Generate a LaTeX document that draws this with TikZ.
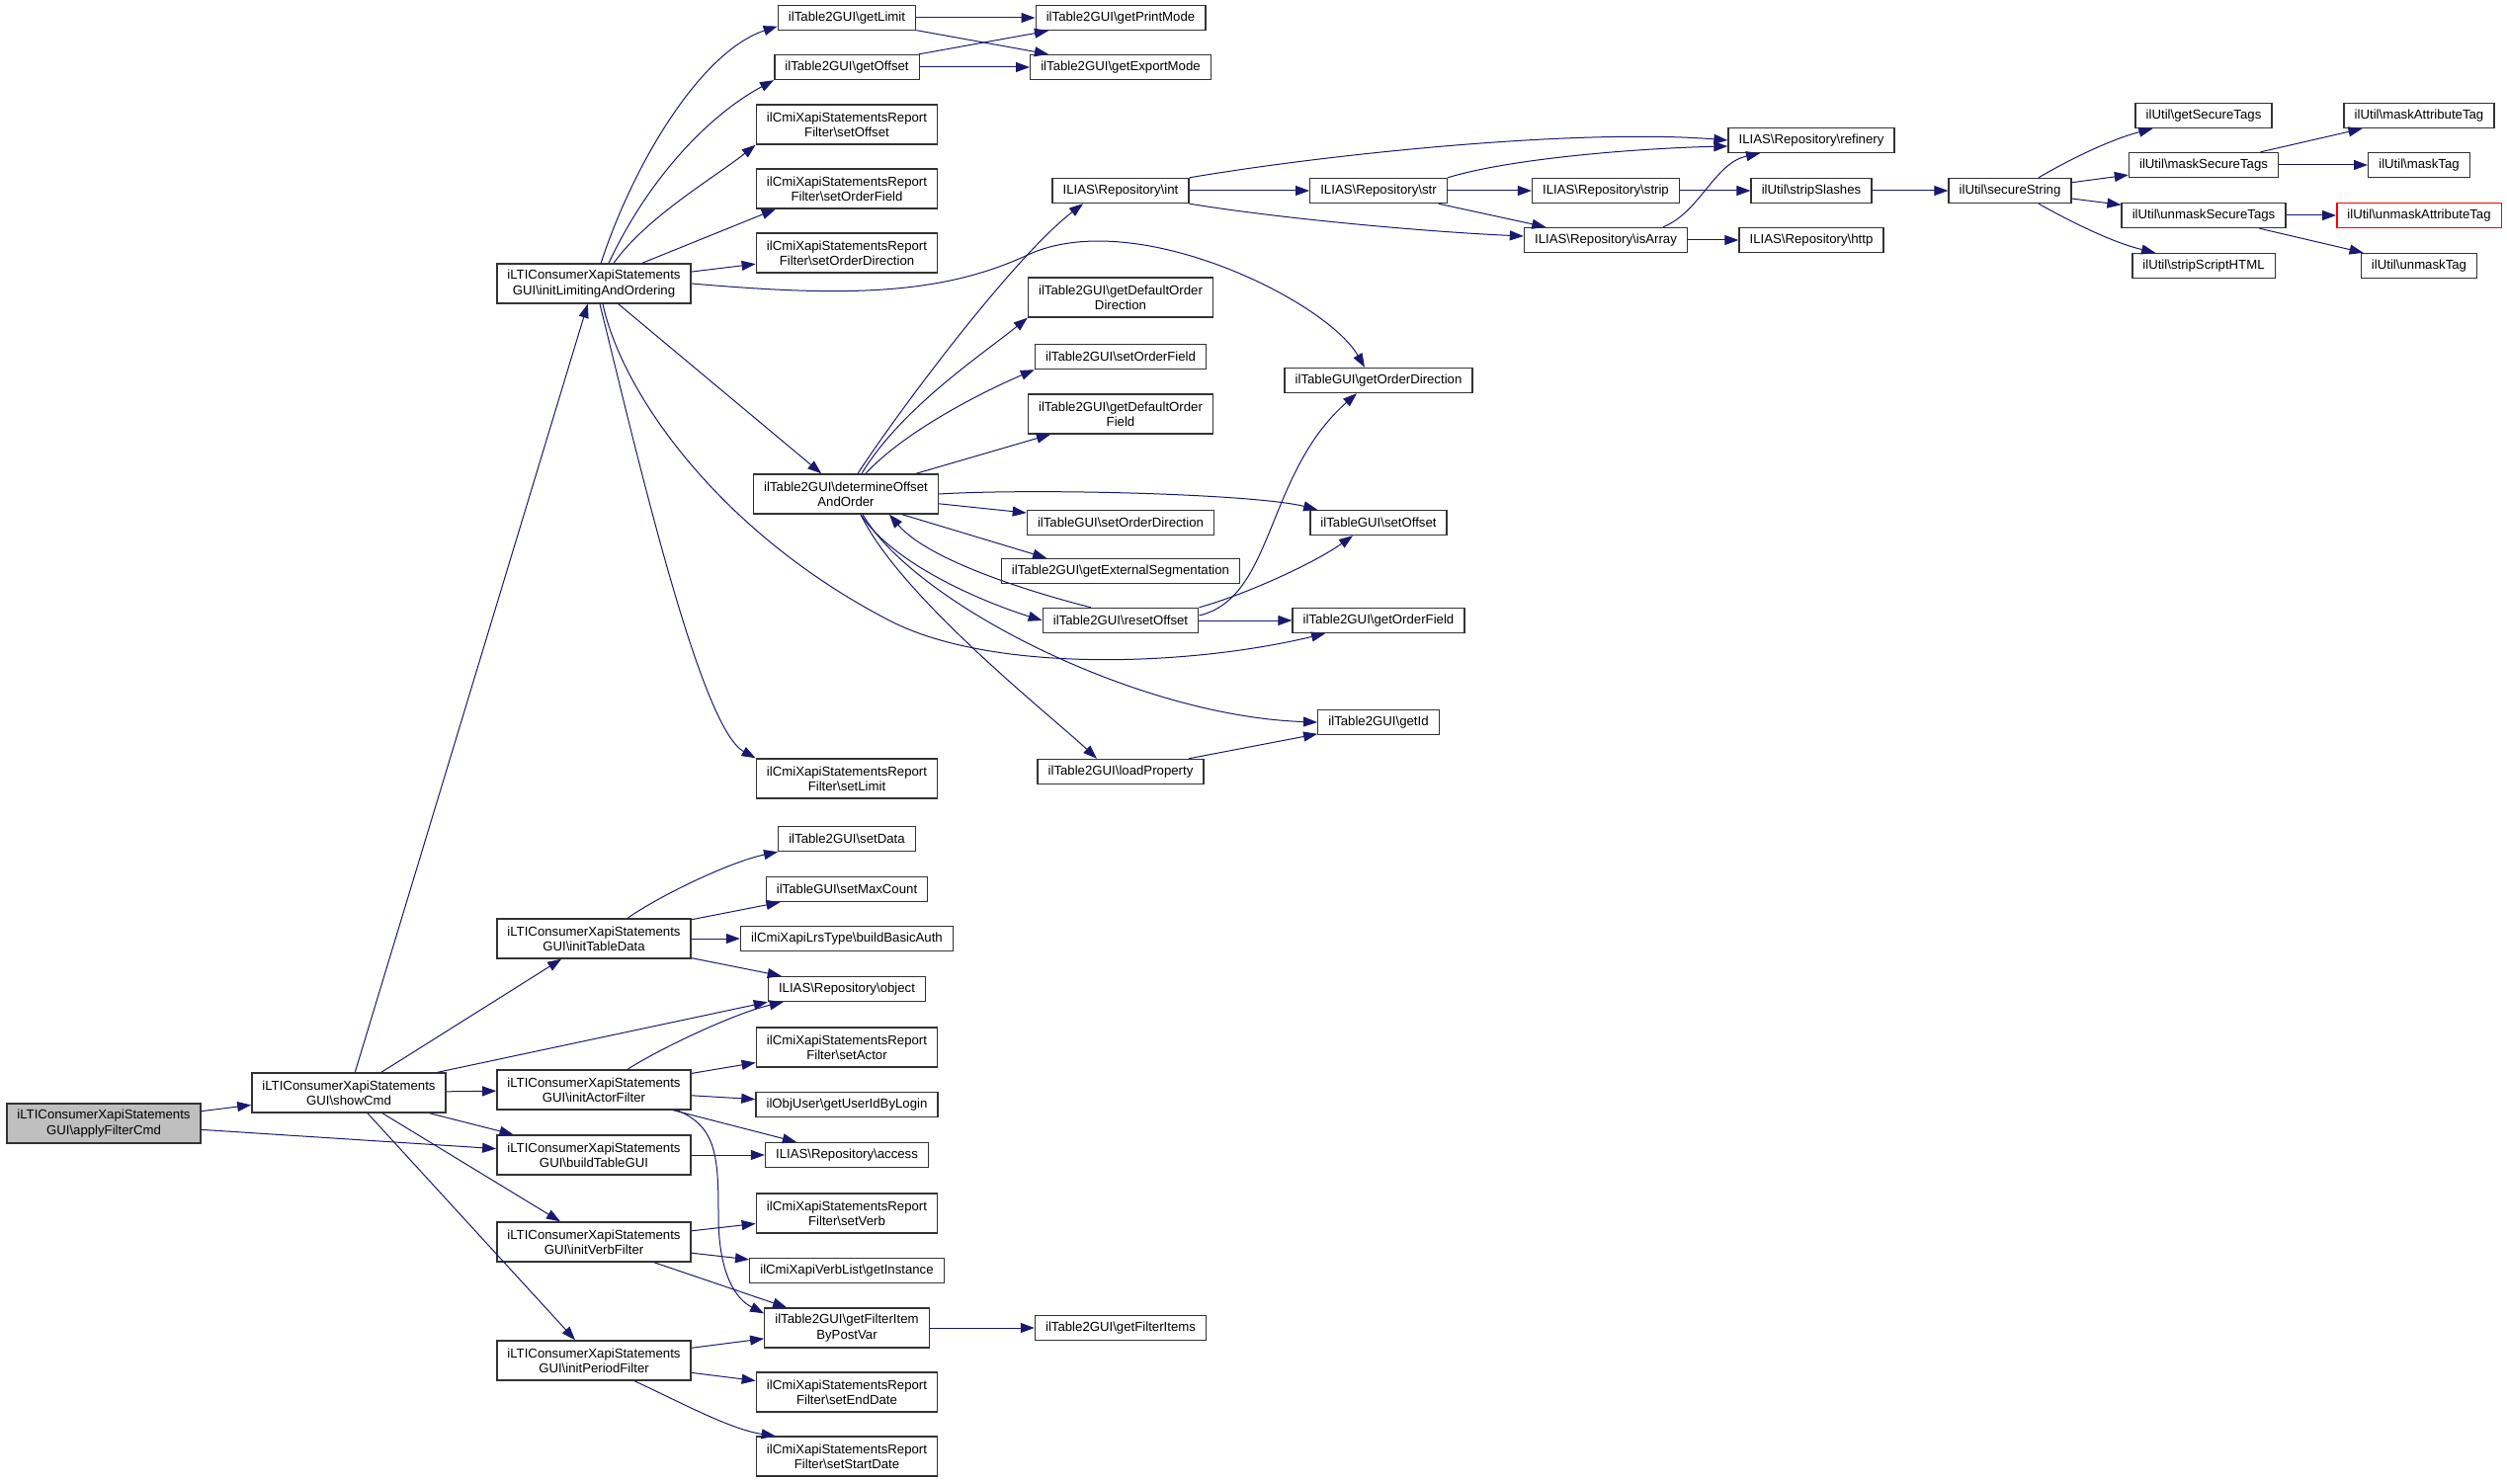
\documentclass[tikz,border=0pt]{standalone}
\usepackage{fontspec}
\setmainfont{Liberation Sans}
\usetikzlibrary{arrows.meta}
\definecolor{edgeblue}{HTML}{191970}
\definecolor{rootgray}{HTML}{BFBFBF}
\newcommand{\bksl}{\textbackslash}

\begin{document}
\begin{tikzpicture}[
        x=0.5pt, y=-0.5pt, % 1 единица = 1 пиксель, ось y вниз
        func/.style = {draw=black!80, line width=0.7pt, fill=white, align=center,
            inner xsep=5.3pt, inner ysep=3pt, minimum height=12.5pt,
            font=\fontsize{6.6}{7.6}\selectfont}, % Стиль узлов
        func2/.style = {func, minimum height=20pt}, % Узел в две строки
        root/.style = {func2, fill=rootgray},
        lost/.style = {func, draw=red},
        call/.style = {draw=edgeblue, line width=0.5pt, -{Triangle[length=7pt, width=5pt]}},
    ]

    \path[use as bounding box, fill=white] (0,0) rectangle (2537,1502);

    % Уровни 0-2
    \node[root] (afc) at (105,1137) {iLTIConsumerXapiStatements\\GUI\bksl applyFilterCmd};
    \node[func2] (scmd) at (353,1106) {iLTIConsumerXapiStatements\\GUI\bksl showCmd};
    \node[func2] (ilao) at (601,287) {iLTIConsumerXapiStatements\\GUI\bksl initLimitingAndOrdering};
    \node[func2] (itd) at (601,950) {iLTIConsumerXapiStatements\\GUI\bksl initTableData};
    \node[func2] (iaf) at (601,1103) {iLTIConsumerXapiStatements\\GUI\bksl initActorFilter};
    \node[func2] (btg) at (601,1169) {iLTIConsumerXapiStatements\\GUI\bksl buildTableGUI};
    \node[func2] (ivf) at (601,1257) {iLTIConsumerXapiStatements\\GUI\bksl initVerbFilter};
    \node[func2] (ipf) at (601,1377) {iLTIConsumerXapiStatements\\GUI\bksl initPeriodFilter};

    % Уровень 3
    \node[func] (glim) at (857,18) {ilTable2GUI\bksl getLimit};
    \node[func] (goff) at (857,68) {ilTable2GUI\bksl getOffset};
    \node[func2] (fsoff) at (857,126) {ilCmiXapiStatementsReport\\Filter\bksl setOffset};
    \node[func2] (fsof) at (857,191) {ilCmiXapiStatementsReport\\Filter\bksl setOrderField};
    \node[func2] (fsod) at (857,256) {ilCmiXapiStatementsReport\\Filter\bksl setOrderDirection};
    \node[func2] (doa) at (856,500) {ilTable2GUI\bksl determineOffset\\AndOrder};
    \node[func2] (fslim) at (857,788) {ilCmiXapiStatementsReport\\Filter\bksl setLimit};
    \node[func] (sdata) at (857,849) {ilTable2GUI\bksl setData};
    \node[func] (smax) at (857,900) {ilTableGUI\bksl setMaxCount};
    \node[func] (bba) at (857,950) {ilCmiXapiLrsType\bksl buildBasicAuth};
    \node[func] (robj) at (857,1001) {ILIAS\bksl Repository\bksl object};
    \node[func2] (fsact) at (857,1060) {ilCmiXapiStatementsReport\\Filter\bksl setActor};
    \node[func] (guid) at (857,1118) {ilObjUser\bksl getUserIdByLogin};
    \node[func] (racc) at (857,1169) {ILIAS\bksl Repository\bksl access};
    \node[func2] (fsverb) at (857,1228) {ilCmiXapiStatementsReport\\Filter\bksl setVerb};
    \node[func] (vinst) at (857,1286) {ilCmiXapiVerbList\bksl getInstance};
    \node[func2] (gfi) at (857,1344) {ilTable2GUI\bksl getFilterItem\\ByPostVar};
    \node[func2] (fsend) at (857,1409) {ilCmiXapiStatementsReport\\Filter\bksl setEndDate};
    \node[func2] (fsstart) at (857,1474) {ilCmiXapiStatementsReport\\Filter\bksl setStartDate};

    % Уровень 4
    \node[func] (gpm) at (1134,18) {ilTable2GUI\bksl getPrintMode};
    \node[func] (gem) at (1134,68) {ilTable2GUI\bksl getExportMode};
    \node[func] (rint) at (1134,193) {ILIAS\bksl Repository\bksl int};
    \node[func2] (gdod) at (1134,301) {ilTable2GUI\bksl getDefaultOrder\\Direction};
    \node[func] (sof) at (1134,361) {ilTable2GUI\bksl setOrderField};
    \node[func2] (gdof) at (1134,419) {ilTable2GUI\bksl getDefaultOrder\\Field};
    \node[func] (tsod) at (1134,529) {ilTableGUI\bksl setOrderDirection};
    \node[func] (ges) at (1134,578) {ilTable2GUI\bksl getExternalSegmentation};
    \node[func] (roff) at (1134,628) {ilTable2GUI\bksl resetOffset};
    \node[func] (lprop) at (1134,781) {ilTable2GUI\bksl loadProperty};
    \node[func] (gfis) at (1134,1344) {ilTable2GUI\bksl getFilterItems};

    % Уровень 5
    \node[func] (rstr) at (1395,193) {ILIAS\bksl Repository\bksl str};
    \node[func] (god) at (1395,385) {ilTableGUI\bksl getOrderDirection};
    \node[func] (tsoff) at (1395,529) {ilTableGUI\bksl setOffset};
    \node[func] (gof) at (1395,628) {ilTable2GUI\bksl getOrderField};
    \node[func] (gid) at (1395,731) {ilTable2GUI\bksl getId};

    % Уровни 6-10
    \node[func] (rstrip) at (1625,193) {ILIAS\bksl Repository\bksl strip};
    \node[func] (risarr) at (1625,243) {ILIAS\bksl Repository\bksl isArray};
    \node[func] (rref) at (1833,142) {ILIAS\bksl Repository\bksl refinery};
    \node[func] (sslash) at (1833,193) {ilUtil\bksl stripSlashes};
    \node[func] (rhttp) at (1833,243) {ILIAS\bksl Repository\bksl http};
    \node[func] (ssec) at (2034,193) {ilUtil\bksl secureString};
    \node[func] (gst) at (2230,117) {ilUtil\bksl getSecureTags};
    \node[func] (mst) at (2230,167) {ilUtil\bksl maskSecureTags};
    \node[func] (ust) at (2230,218) {ilUtil\bksl unmaskSecureTags};
    \node[func] (ssh) at (2230,269) {ilUtil\bksl stripScriptHTML};
    \node[func] (mat) at (2448,117) {ilUtil\bksl maskAttributeTag};
    \node[func] (mtag) at (2448,167) {ilUtil\bksl maskTag};
    \node[lost] (uat) at (2448,218) {ilUtil\bksl unmaskAttributeTag};
    \node[func] (utag) at (2448,269) {ilUtil\bksl unmaskTag};

    % applyFilterCmd, showCmd
    \draw[call] (afc) -- (scmd);
    \draw[call] (afc) -- (btg);
    \draw[call] (scmd) -- (ilao);
    \draw[call] (scmd) -- (itd);
    \draw[call] (scmd.13) -- (robj.south west);
    \draw[call] (scmd) -- (iaf);
    \draw[call] (scmd) -- (btg);
    \draw[call] (scmd) -- (ivf);
    \draw[call] (scmd) -- (ipf);

    % initLimitingAndOrdering
    \draw[call] (ilao.71) .. controls (642,163) and (710,52) .. (glim.187);
    \draw[call] ([xshift=7.5pt]ilao.north) .. controls (658,177) and (720,115) .. (goff.south west);
    \draw[call] ([xshift=10pt]ilao.north) .. controls (655,219) and (724,179) .. (fsoff.south west);
    \draw[call] (ilao.23) -- (fsof.196);
    \draw[call] (ilao) -- (fsod);
    \draw[call] (ilao.east) .. controls (850,300) and (950,300) .. (1040,258)
        .. controls (1148,208) and (1342,304) .. ([xshift=-7pt]god.north);
    \draw[call] (ilao) -- (doa);
    \draw[call] ([xshift=4.5pt]ilao.south) .. controls (630,400) and (730,540) .. (900,628)
        .. controls (1002,681) and (1200,675) .. ([xshift=-27pt]gof.south);
    \draw[call] ([xshift=3pt]ilao.south) .. controls (643,453) and (708,736) .. (fslim.north west);

    % determineOffsetAndOrder
    \draw[call] ([xshift=6pt]doa.north) .. controls (910,415) and (1026,260) .. ([xshift=-19pt]rint.south);
    \draw[call] ([xshift=8pt]doa.north) .. controls (912,413) and (995,358) .. (gdod.south west);
    \draw[call] ([xshift=10pt]doa.north) .. controls (917,435) and (998,395) .. (sof.south west);
    \draw[call] (doa) -- (gdof);
    \draw[call] (doa.east) .. controls (1050,494) and (1270,500) .. ([xshift=4pt]tsoff.north west);
    \draw[call] (doa) -- (tsod);
    \draw[call] (doa.-20) -- (ges.170);
    \draw[call] ([xshift=7.5pt]doa.south) .. controls (906,574) and (1003,612) .. (roff.west);
    \draw[call] ([xshift=8.5pt]doa.south) .. controls (925,610) and (1150,725) .. (gid.west);
    \draw[call] ([xshift=7.5pt]doa.south) .. controls (911,604) and (1063,724) .. ([xshift=-12pt]lprop.north);

    % resetOffset
    \draw[call] ([xshift=-15pt]roff.north) .. controls (1053,602) and (941,569) .. ([xshift=22pt]doa.south);
    \draw[call] ([yshift=2.5pt]roff.east) .. controls (1290,605) and (1280,480) .. ([xshift=-11pt]god.south);
    \draw[call] (roff.north east) .. controls (1260,602) and (1330,570) .. ([xshift=-13pt]tsoff.south);
    \draw[call] (roff) -- (gof);

    % getLimit, getOffset
    \draw[call] (glim) -- (gpm);
    \draw[call] (glim) -- (gem);
    \draw[call] (goff) -- (gpm);
    \draw[call] (goff) -- (gem);

    % Repository, ilUtil
    \draw[call] (rint.north east) .. controls (1350,155) and (1600,130) .. (rref.west);
    \draw[call] (rint) -- (rstr);
    \draw[call] (rint.south east) .. controls (1300,222) and (1450,235) .. ([yshift=2pt]risarr.west);
    \draw[call] (rstr.north east) .. controls (1530,160) and (1660,150) .. ([yshift=-3pt]rref.west);
    \draw[call] (rstr) -- (rstrip);
    \draw[call] (rstr) -- (risarr);
    \draw[call] (rstrip) -- (sslash);
    \draw[call] ([xshift=29pt]risarr.north) .. controls (1720,215) and (1735,165) .. ([xshift=-26pt]rref.south);
    \draw[call] (risarr) -- (rhttp);
    \draw[call] (sslash) -- (ssec);
    \draw[call] ([xshift=14.5pt]ssec.north) .. controls (2100,158) and (2140,140) .. ([xshift=9pt]gst.south west);
    \draw[call] (ssec) -- (mst);
    \draw[call] (ssec) -- (ust);
    \draw[call] ([xshift=14.5pt]ssec.south) .. controls (2100,227) and (2140,246) .. ([xshift=12pt]ssh.north west);
    \draw[call] (mst) -- (mat);
    \draw[call] (mst) -- (mtag);
    \draw[call] (ust) -- (uat);
    \draw[call] (ust) -- (utag);
    \draw[call] (lprop) -- (gid);

    % initTableData, initActorFilter
    \draw[call] ([xshift=17pt]itd.north) .. controls (670,905) and (740,872) .. (sdata.south west);
    \draw[call] (itd) -- (smax);
    \draw[call] (itd) -- (bba);
    \draw[call] (itd) -- (robj);
    \draw[call] ([xshift=17pt]iaf.north) .. controls (670,1060) and (745,1025) .. ([xshift=8pt]robj.south west);
    \draw[call] (iaf) -- (fsact);
    \draw[call] (iaf) -- (guid);
    \draw[call] (iaf) -- (racc);
    \draw[call] ([xshift=42pt]iaf.south) .. controls (725,1140) and (727,1170) .. (727,1230)
        .. controls (727,1290) and (745,1315) .. ([yshift=-3pt]gfi.north west);

    % buildTableGUI, initVerbFilter, initPeriodFilter
    \draw[call] (btg) -- (racc);
    \draw[call] (ivf) -- (fsverb);
    \draw[call] (ivf) -- (vinst);
    \draw[call] (ivf) -- (gfi);
    \draw[call] (ipf) -- (gfi);
    \draw[call] (ipf) -- (fsend);
    \draw[call] ([xshift=20.5pt]ipf.south) .. controls (690,1420) and (740,1447) .. ([xshift=10pt]fsstart.north west);
    \draw[call] (gfi) -- (gfis);
\end{tikzpicture}
\end{document}
